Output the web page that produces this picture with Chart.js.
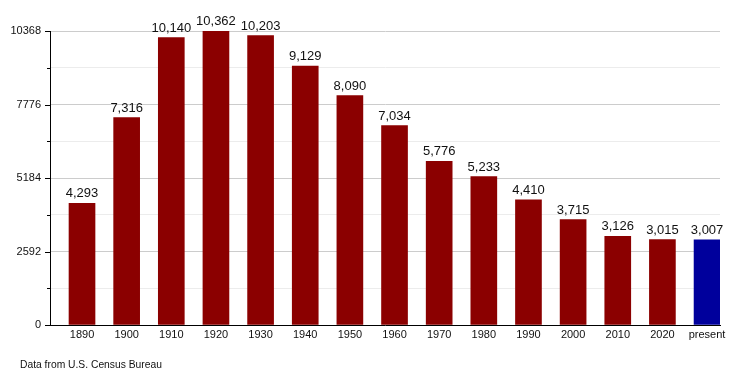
<!DOCTYPE html>
<html><head><meta charset="utf-8">
<script src="https://cdn.jsdelivr.net/npm/chart.js@4"></script>
<style>html,body{margin:0;padding:0;background:#fff}#wrap{width:750px;height:375px}</style>
</head><body><div id="wrap"><canvas id="c" width="750" height="375"></canvas></div>
<script>
const categories = ['1890','1900','1910','1920','1930','1940','1950','1960','1970','1980','1990','2000','2010','2020','present'];
const population = [4293,7316,10140,10362,10203,9129,8090,7034,5776,5233,4410,3715,3126,3015,3007];
const barColors = ['#8B0000','#8B0000','#8B0000','#8B0000','#8B0000','#8B0000','#8B0000','#8B0000','#8B0000','#8B0000','#8B0000','#8B0000','#8B0000','#8B0000','#00009C'];
const yTicks = [0,1296,2592,3888,5184,6480,7776,9072,10368];
const yMajor = [0,2592,5184,7776,10368];
const sourceNote = 'Data from U.S. Census Bureau';

const FONT = '"Liberation Sans", Arial, sans-serif';

const extras = {
  id: 'extras',
  afterDraw(chart) {
    const ctx = chart.ctx, y = chart.scales.y;
    ctx.save();
    ctx.strokeStyle = '#000'; ctx.lineWidth = 1;
    yTicks.forEach(v => {
      const py = Math.round(y.getPixelForValue(v)) + 0.5;
      const len = yMajor.includes(v) ? 5 : 3;
      ctx.beginPath(); ctx.moveTo(y.right - len, py); ctx.lineTo(y.right, py); ctx.stroke();
    });
    ctx.fillStyle = '#111';
    ctx.font = '13px ' + FONT;
    ctx.textAlign = 'center'; ctx.textBaseline = 'bottom';
    const meta = chart.getDatasetMeta(0);
    meta.data.forEach((bar, i) => {
      ctx.fillText(population[i].toLocaleString('en-US'), bar.x, bar.y - 3);
    });
    ctx.font = '10.3px ' + FONT;
    ctx.textAlign = 'left'; ctx.textBaseline = 'middle';
    ctx.fillText(sourceNote, 20, 365);
    ctx.restore();
  }
};

new Chart(document.getElementById('c'), {
  type: 'bar',
  data: {
    datasets: [{
      data: population.map((v, i) => ({ x: i, y: v })),
      backgroundColor: barColors, barThickness: 26
    }]
  },
  options: {
    responsive: false,
    animation: false,
    layout: { padding: { left: 0, right: 30, top: 31, bottom: 0 } },
    plugins: { legend: { display: false }, tooltip: { enabled: false } },
    scales: {
      x: {
        type: 'linear',
        offset: false,
        min: -0.717, max: 14.29,
        afterBuildTicks: s => { s.ticks = categories.map((c, i) => ({ value: i })); },
        grid: { display: false, drawTicks: false, offset: false },
        border: { display: true, color: '#000', width: 1 },
        ticks: {
          color: '#111', font: { family: FONT, size: 11 }, padding: 3, maxRotation: 0, autoSkip: false,
          callback: v => categories[v]
        },
        afterFit: s => { s.height = 50; }
      },
      y: {
        min: 0, max: 10368,
        afterBuildTicks: s => { s.ticks = yTicks.map(v => ({ value: v })); },
        grid: {
          drawTicks: false,
          color: c => yMajor.includes(c.tick && c.tick.value) ? '#cccccc' : '#ececec',
          lineWidth: 1
        },
        border: { display: true, color: '#000', width: 1 },
        ticks: {
          color: '#111', font: { family: FONT, size: 11 }, padding: 9,
          callback: v => yMajor.includes(v) ? String(v) : ''
        },
        afterFit: s => { s.width = 50; }
      }
    }
  },
  plugins: [extras]
});
</script></body></html>
